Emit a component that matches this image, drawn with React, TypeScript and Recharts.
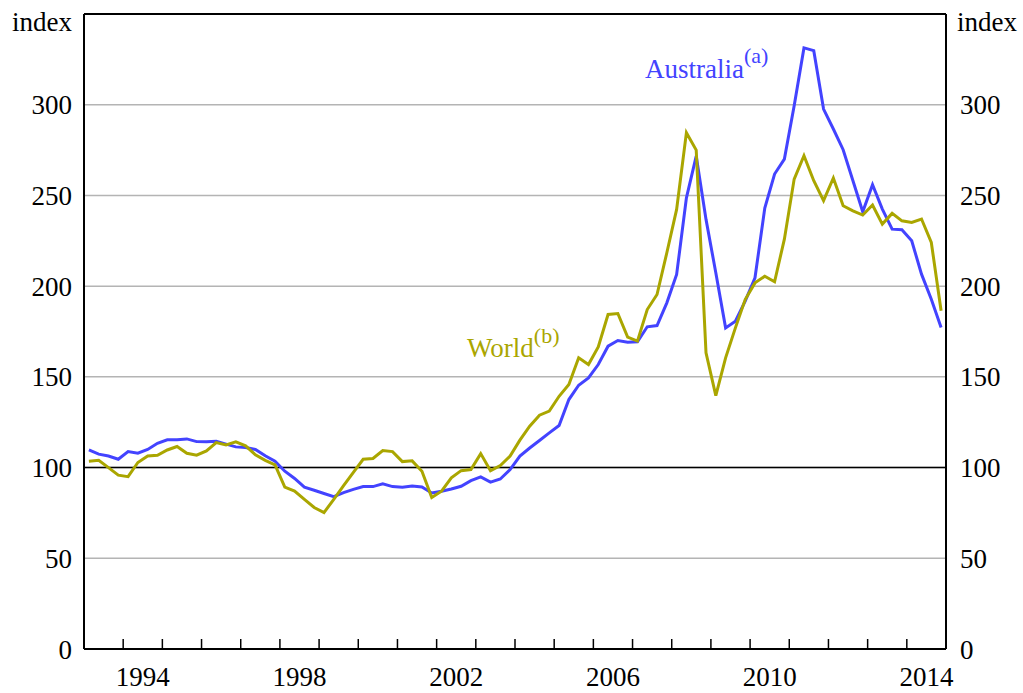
import React from "react";
import { LineChart, Line, XAxis, YAxis, CartesianGrid, ReferenceLine } from "recharts";

// quarterly series, 1993 Q1 – 2014 Q4 (index)
const START_YEAR = 1993;
const END_YEAR = 2015;

const AUSTRALIA = [
    109.7, 107.4, 106.4, 104.6, 108.8, 107.9, 110, 113.4,
    115.3, 115.3, 115.8, 114.3, 114.2, 114.5, 112.9, 111.4,
    111, 110, 106.5, 103.5, 98, 94, 89.2, 87.5,
    85.7, 84, 86.2, 88, 89.5, 89.5, 91, 89.5,
    89.2, 89.9, 89.3, 86, 87, 88.2, 89.7, 92.8,
    94.9, 92, 93.7, 98.9, 106.3, 110.8, 114.9, 119.1,
    123.2, 137.5, 145.4, 149.4, 156.8, 166.9, 170, 169.1,
    169.3, 177.6, 178.3, 190.8, 206.4, 248.7, 271.7, 236.8,
    207.4, 177, 180.7, 191.7, 204.6, 243, 261.8, 270,
    299.4, 331.3, 329.8, 297.6, 286.6, 275.2, 258.1, 241,
    255.9, 242.5, 231.4, 231.1, 225, 206.6, 192.8, 177.2,
];

const WORLD = [
    103.5, 104, 100, 95.8, 95, 102.8, 106.4, 106.8,
    109.7, 111.6, 107.9, 106.8, 109.2, 113.8, 112.5, 114.2,
    112, 107, 104, 101.5, 89.2, 87, 82.5, 78,
    75.2, 82.5, 90, 97.4, 104.6, 105, 109.4, 108.8,
    103.3, 103.7, 98, 83.5, 87, 94.3, 98.3, 98.9,
    107.7, 98.3, 101.1, 106.3, 115.1, 122.8, 128.9, 131.1,
    139.3, 145.8, 160.5, 156.8, 166.5, 184.4, 184.9, 171.9,
    169.7, 187.1, 195.4, 218.4, 242.3, 284.6, 275, 163.2,
    139.7, 160.5, 177, 192.6, 201.8, 205.5, 202.4, 225.9,
    259, 271.9, 258.1, 247.1, 259.6, 244.3, 241.5, 239.2,
    244.7, 234.2, 240.1, 236, 235.1, 237, 224.1, 186.4,
];

const YEAR_TICKS = [
    1994, 1995, 1996, 1997, 1998, 1999, 2000, 2001, 2002, 2003, 2004,
    2005, 2006, 2007, 2008, 2009, 2010, 2011, 2012, 2013, 2014,
];
const LABEL_YEARS = [1994, 1998, 2002, 2006, 2010, 2014];
const Y_TICKS = [0, 50, 100, 150, 200, 250, 300];

const BLUE = "#4343ff";
const OLIVE = "#aaa600";
const FONT = "'Liberation Serif', 'Times New Roman', serif";
const HALF_YEAR = 19.6;

// plotted at mid-quarter
const data = AUSTRALIA.map((v, i) => ({
    t: START_YEAR + (i + 0.5) / 4,
    australia: v,
    world: WORLD[i],
}));

const YearTick = ({ x, y, payload }: any) => {
    const year = payload.value;
    return (
        <g>
            <line x1={x} x2={x} y1={y} y2={y - 10} stroke="#000" strokeWidth={1.5} />
            {LABEL_YEARS.includes(year) && (
                <text x={x + HALF_YEAR} y={y + 37} textAnchor="middle" fill="#000" fontSize={27} fontFamily={FONT}>
                    {year}
                </text>
            )}
        </g>
    );
};

export default function App() {
    const tickStyle = { fill: "#000", fontSize: 27, fontFamily: FONT };
    return (
        <div style={{ position: "absolute", left: 0, top: 0, width: 1023, height: 693, background: "#fff" }}>
            <LineChart width={1023} height={693} data={data} margin={{ top: 14, right: 7, bottom: 14, left: 14 }}>
                <CartesianGrid vertical={false} stroke="#b4b4b4" strokeWidth={1.5} yAxisId="left" />
                <XAxis
                    dataKey="t"
                    type="number"
                    domain={[START_YEAR, END_YEAR]}
                    ticks={YEAR_TICKS}
                    interval={0}
                    height={30}
                    tickSize={0}
                    tickMargin={0}
                    tickLine={false}
                    tick={<YearTick />}
                    axisLine={{ stroke: "#000", strokeWidth: 2 }}
                />
                <YAxis
                    yAxisId="left"
                    domain={[0, 350]}
                    ticks={Y_TICKS}
                    width={70}
                    tickLine={false}
                    tickSize={0}
                    tickMargin={12}
                    tick={tickStyle}
                    axisLine={{ stroke: "#000", strokeWidth: 2 }}
                />
                <YAxis
                    yAxisId="right"
                    orientation="right"
                    domain={[0, 350]}
                    ticks={Y_TICKS}
                    width={70}
                    tickLine={false}
                    tickSize={0}
                    tickMargin={14}
                    tick={{ ...tickStyle, textAnchor: "start" }}
                    axisLine={{ stroke: "#000", strokeWidth: 2 }}
                />
                <ReferenceLine yAxisId="left" y={100} stroke="#000" strokeWidth={1.5} />
                <ReferenceLine yAxisId="left" y={350} stroke="#000" strokeWidth={2} />
                <Line yAxisId="left" dataKey="australia" stroke={BLUE} strokeWidth={3} dot={false} isAnimationActive={false} />
                {/* same 0–350 scale on both sides */}
                <Line yAxisId="right" dataKey="world" stroke={OLIVE} strokeWidth={3} dot={false} isAnimationActive={false} />
            </LineChart>
            <svg width={1023} height={693} style={{ position: "absolute", left: 0, top: 0, pointerEvents: "none" }}>
                <g fontFamily={FONT} fontSize={27}>
                    <text x={72} y={31} textAnchor="end" fill="#000">index</text>
                    <text x={957} y={31} textAnchor="start" fill="#000">index</text>
                    <text x={645} y={78} fill={BLUE}>
                        Australia<tspan dy={-15} fontSize={22}>(a)</tspan>
                    </text>
                    <text x={467} y={357} fill={OLIVE}>
                        World<tspan dy={-14} fontSize={22}>(b)</tspan>
                    </text>
                </g>
            </svg>
        </div>
    );
}
